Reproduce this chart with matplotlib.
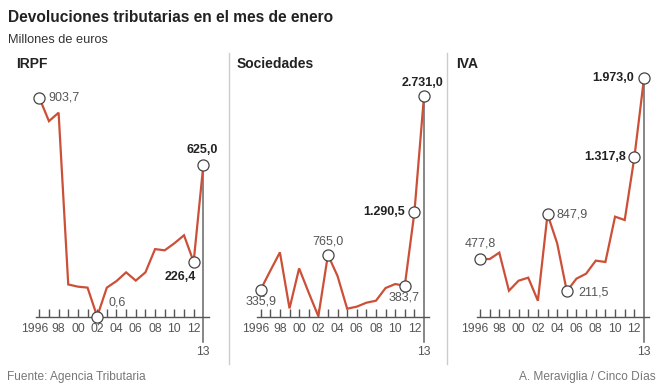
import matplotlib.pyplot as plt
from matplotlib.transforms import ScaledTranslation

plt.rcParams['font.family'] = ['Liberation Sans', 'DejaVu Sans']

# Data (millones de euros, mes de enero)
years = list(range(1996, 2014))
irpf = [903.7, 807, 842, 133, 124, 120, 0.6, 120, 147, 183, 149, 183, 279, 274, 303, 336, 226.4, 625.0]
sociedades = [335.9, 569, 796, 103, 598, 297, 5, 765.0, 503, 99, 124, 173, 198, 355, 404, 383.7, 1290.5, 2731.0]
iva = [477.8, 477, 530, 215, 298, 323, 132, 847.9, 607, 211.5, 315, 356, 464, 453, 828, 800, 1317.8, 1973.0]

titles = ['IRPF', 'Sociedades', 'IVA']
series = [irpf, sociedades, iva]
tick_labels = ['1996', '98', '00', '02', '04', '06', '08', '10', '12']

# labelled points: (index, bold, dx px, dy px, ha, va)
marks = [
    [(0, False, 9, 0, 'left', 'center'), (6, False, 11, -14, 'left', 'center'),
     (16, True, -13, 15, 'center', 'center'), (17, True, -1, -15, 'center', 'center')],
    [(0, False, 0, 12, 'center', 'center'), (7, False, 0, -13, 'center', 'center'),
     (15, False, -1, 12, 'center', 'center'), (16, True, -9, 0, 'right', 'center'),
     (17, True, -2, -13, 'center', 'center')],
    [(0, False, 0, -15, 'center', 'center'), (7, False, 9, 0, 'left', 'center'),
     (9, False, 11, 1, 'left', 'center'), (16, True, -8, 0, 'right', 'center'),
     (17, True, -10, 0, 'right', 'center')],
]

# pixel layout of each panel: left, right, x of 1996, x of 2013, baseline y, px per unit
W, H = 664, 387
layout = [
    (0, 229, 39.3, 203.3, 316.7, 0.2423),
    (229, 447, 260.7, 424.0, 316.7, 0.08081),
    (447, 664, 480.0, 644.0, 316.7, 0.12083),
]
title_x = [16, 237, 456]
TOP, BOT = 70, 360

RED = '#cc5038'
GREY = '#555555'
DARK = '#222222'


def fmt(v):
    s = f'{v:,.1f}'
    return s.replace(',', 'X').replace('.', ',').replace('X', '.')


fig = plt.figure(figsize=(W / 100, H / 100), dpi=100)

for k, (L, R, x0, x1, base, sc) in enumerate(layout):
    pxyr = (x1 - x0) / 17
    ax = fig.add_axes([L / W, 1 - BOT / H, (R - L) / W, (BOT - TOP) / H])
    ax.set_xlim(1996 + (L - x0) / pxyr, 1996 + (R - x0) / pxyr)
    ax.set_ylim(-(BOT - base) / sc, (base - TOP) / sc)
    ax.patch.set_visible(False)
    for s in ['left', 'right', 'top']:
        ax.spines[s].set_visible(False)
    ax.spines['bottom'].set_position(('data', 0))
    ax.spines['bottom'].set_bounds(1995.65, 2013.55)
    ax.spines['bottom'].set_color(GREY)
    ax.spines['bottom'].set_linewidth(1)
    ax.set_yticks([])
    ax.set_xticks(years[:-1])
    ax.set_xticklabels([tick_labels[i // 2] if i % 2 == 0 else '' for i in range(17)])
    ax.tick_params(axis='x', direction='in', length=5.5, width=1, color=GREY,
                   labelsize=8.7, labelcolor=GREY, pad=4.5)
    # "1996" sits a little left of its tick
    first = ax.get_xticklabels()[0]
    first.set_transform(first.get_transform() + ScaledTranslation(-5 / 100, 0, fig.dpi_scale_trans))

    vals = series[k]
    # 2013 vertical line down to the "13" label
    ax.plot([2013, 2013], [vals[-1], -(341.7 - base) / sc], color='#666666', lw=1.1,
            clip_on=False, zorder=1)
    ax.text(2013, -(352 - base) / sc, '13', ha='center', va='center', fontsize=8.7,
            color=GREY)

    ax.plot(years, vals, color=RED, lw=1.6, clip_on=False, zorder=2,
            solid_joinstyle='miter')

    for (i, bold, dx, dy, ha, va) in marks[k]:
        ax.plot(years[i], vals[i], 'o', ms=8, mfc='white', mec='#444444', mew=0.9,
                clip_on=False, zorder=3)
        ax.annotate(fmt(vals[i]), (years[i], vals[i]), xytext=(dx * 0.72, -dy * 0.72),
                    textcoords='offset points', ha=ha, va=va, fontsize=9,
                    fontweight='bold' if bold else 'normal',
                    color=DARK if bold else GREY, annotation_clip=False)

# decoration overlay in pixel coordinates
ov = fig.add_axes([0, 0, 1, 1])
ov.set_xlim(0, W)
ov.set_ylim(H, 0)
ov.axis('off')
ov.patch.set_visible(False)

for x in [229, 447]:
    ov.plot([x, x], [53, 364], color='#cccccc', lw=1)

ov.text(8, 17, 'Devoluciones tributarias en el mes de enero', fontsize=11.2,
        fontweight='bold', color=DARK, va='center', ha='left')
ov.text(8, 40, 'Millones de euros', fontsize=9.2, color='#333333', va='center', ha='left')

for x, t in zip(title_x, titles):
    ov.text(x, 64, t, fontsize=10, fontweight='bold', color=DARK, va='center', ha='left')

ov.text(7, 377, 'Fuente: Agencia Tributaria', fontsize=8.6, color='#777777',
        va='center', ha='left')
ov.text(656, 377, 'A. Meraviglia / Cinco Días', fontsize=8.6, color='#777777',
        va='center', ha='right')

plt.savefig('out.png', dpi=100)
